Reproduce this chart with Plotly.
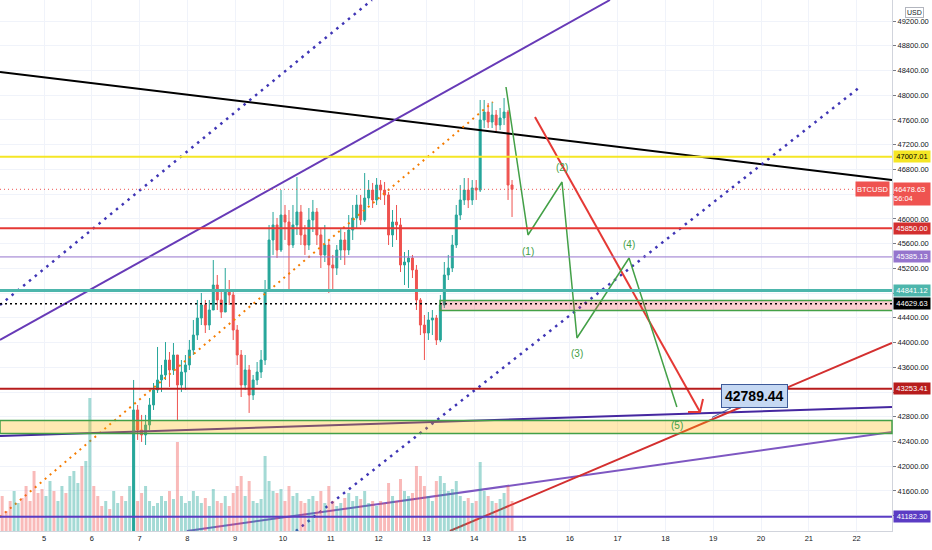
import plotly.graph_objects as go

# ---------------------------------------------------------------
# BTCUSD 2h candles (days of the month)
# ---------------------------------------------------------------
first_day = 4.0
bar_step = 1 / 12  # 2-hour bars, expressed in days
first_open = 39700

closes = [
    39500, 39300, 39100, 38900, 39200, 39400, 39000, 38600, 38300, 38100,
    37800, 37500, 37900, 38400, 38200, 38800, 39300, 39100, 39700, 40200,
    40600, 40300, 40300, 40750, 40400, 40100, 39900, 40200, 39800, 40000,
    40300, 40100, 40500, 40700, 42910, 42587, 42506, 42667, 42991, 43233,
    43395, 43476, 43718, 43557, 43799, 43314, 43524, 43638, 43880, 44122,
    44397, 44608, 44284, 44527, 44931, 44689, 44494, 44850, 44770, 44203,
    43799, 43314, 43557, 43152, 43395, 43524, 43718, 44850, 45659, 45902,
    45497, 46063, 45950, 45578, 45902, 46112, 45740, 45578, 45982, 46112,
    45740, 45417, 45578, 45255, 45206, 45497, 45659, 45497, 45820, 46015,
    46225, 45982, 46338, 46467, 46306, 46548, 46467, 46387, 45740, 45950,
    45902, 45255, 45303, 45368, 45174, 44689, 44284, 44155, 44365, 44397,
    44042, 44608, 45093, 45206, 45578, 46063, 46306, 46467, 46306, 46500,
    46467, 47599, 47728, 47567, 47680, 47518, 47632, 47728, 46548, 46478.63,
]
highs = [
    39800, 39600, 39400, 39200, 39400, 39600, 39500, 39100, 38700, 38400,
    38200, 37900, 38100, 38600, 38500, 39000, 39500, 39400, 39900, 40400,
    40800, 40700, 40850, 40850, 40700, 40500, 40200, 40400, 40300, 40200,
    40500, 40400, 40700, 40850, 43395, 42991, 42830, 42830, 43104, 43346,
    43929, 43638, 44009, 43848, 43993, 43799, 43718, 43799, 44042, 44365,
    44689, 44802, 44689, 44689, 45335, 45093, 44850, 45206, 45012, 44850,
    44284, 43880, 43799, 43638, 43476, 43686, 43880, 45012, 45902, 46112,
    46015, 46467, 46225, 46144, 46225, 46677, 46225, 45902, 46176, 46306,
    46176, 45853, 45902, 45659, 45417, 45578, 45853, 45788, 46063, 46225,
    46387, 46387, 46742, 46629, 46581, 46661, 46629, 46597, 46435, 46144,
    46225, 46015, 45465, 45497, 45417, 45255, 44721, 44446, 44494, 44527,
    44446, 44770, 45303, 45417, 45740, 46225, 46548, 46661, 46661, 46629,
    46629, 47923, 47923, 47874, 47890, 47761, 47793, 47955, 47761, 46629,
]
lows = [
    39300, 39100, 38900, 38700, 38800, 39100, 38900, 38400, 38100, 37900,
    37600, 37300, 37400, 37800, 38000, 38100, 38700, 38900, 39000, 39600,
    40100, 40100, 40200, 40200, 40200, 39900, 39700, 39800, 39600, 39700,
    39900, 39900, 40000, 40400, 40750, 42425, 42393, 42344, 42587, 42910,
    43185, 43201, 43395, 43282, 43476, 42748, 43201, 43233, 43557, 43799,
    44042, 44284, 44155, 44203, 44608, 44527, 44397, 44494, 44608, 44042,
    43638, 43120, 43233, 42862, 43072, 43314, 43427, 43638, 44818, 45417,
    45368, 45465, 45659, 44850, 45530, 45740, 45578, 45417, 45497, 45788,
    45578, 45206, 45303, 44802, 44850, 45093, 45335, 45255, 45417, 45659,
    45853, 45902, 45950, 46225, 46176, 46225, 46306, 46225, 45578, 45546,
    45659, 45141, 44931, 44883, 45044, 44527, 44122, 43718, 44042, 44122,
    43961, 44009, 44559, 45012, 45141, 45530, 45982, 46225, 46176, 46225,
    46306, 46435, 47470, 47470, 47470, 47405, 47438, 47518, 46306, 46031,
]
volumes = [
    250, 350, 200, 300, 400, 280, 330, 450, 300, 600, 380, 420,
    350, 500, 400, 300, 450, 380, 550, 600, 480, 650, 700, 1330,
    450, 350, 250, 300, 220, 400, 280, 350, 300, 450, 1050, 300,
    380, 450, 300, 250, 280, 350, 300, 400, 320, 890, 350, 280,
    300, 400, 350, 280, 330, 250, 420, 300, 280, 350, 250, 380,
    450, 550, 350, 500, 300, 280, 320, 750, 500, 400, 380, 420,
    300, 450, 350, 380, 300, 280, 320, 350, 300, 400, 280, 450,
    300, 250, 280, 330, 380, 300, 350, 320, 400, 280, 300, 250,
    300, 280, 480, 350, 300, 520, 400, 350, 380, 650, 550, 450,
    350, 300, 500, 550, 480, 400, 420, 500, 350, 300, 330, 280,
    300, 690, 400, 350, 300, 280, 320, 380, 450, 300,
]
last_price = 46478.63
countdown = "56:04"

# horizontal levels drawn on the chart
level_prices = [47007.01, 45850.00, 45385.13, 44841.12, 44629.63, 43253.41, 41182.30]
level_colors = ['#f5e625', '#e53935', '#9575cd', '#4db6ac', '#000000', '#b71c1c', '#5b3cc4']
level_widths = [2, 2, 1, 3, 1.5, 2, 2]
level_dash = ['solid', 'solid', 'solid', 'solid', '2px,3px', 'solid', 'solid']
tag_bg = ['#f5e625', '#d32f2f', '#9575cd', '#4db6ac', '#000000', '#b71c1c', '#5b3cc4']
tag_fg = ['#000000', '#ffffff', '#ffffff', '#ffffff', '#ffffff', '#ffffff', '#ffffff']

# zones (price bands)
yellow_zone = [42530, 42740]
pink_zone = [44520, 44680]
pink_zone_start = 13.285

# trend lines: (days, prices)
black_trend = ([4.08, 22.74], [48375, 46629])
channel_upper = ([4.08, 16.84], [44042, 49540])
dotted_upper = ([4.08, 11.86], [44608, 49540])
dotted_lower = ([10.27, 22.07], [40953, 48133])
orange_dotted = ([4.08, 14.39], [41180, 47890])
purple_flat = ([4.08, 22.74], [42489, 42958])
purple_rising = ([7.99, 22.74], [40953, 42554])
red_rising = ([13.49, 22.74], [40953, 43993])
red_arrow = ([15.272, 18.724], [47648, 42877])
red_arrow_head = ([18.473, 18.724, 18.787], [42877, 42877, 43088])

# Elliott wave projection
wave_days = [14.665, 15.126, 15.837, 16.15, 17.24, 18.24]
wave_prices = [48133, 45740, 46597, 44074, 45368, 42958]
wave_labels = ['', '(1)', '(2)', '(3)', '(4)', '(5)']
wave_shift = [0, -17, 14, -15, 13, -18]

target_day = 18.975
target_price = 42789.44

x_ticks = list(range(5, 23))
y_ticks = list(range(41200, 49600, 400))
hidden_ticks = [46400, 44800, 43200, 41200]

# ---------------------------------------------------------------
opens = [first_open] + closes[:-1]
bar_days = [first_day + (i + 0.5) * bar_step for i in range(len(closes))]
vol_colors = ['rgba(38,166,154,0.42)' if c >= o else 'rgba(239,83,80,0.40)'
              for o, c in zip(opens, closes)]

fig = go.Figure()

fig.add_trace(go.Bar(
    x=bar_days, y=volumes, yaxis='y2',
    marker=dict(color=vol_colors, line=dict(width=0)),
    width=bar_step * 0.75, hoverinfo='skip', showlegend=False
))

fig.add_trace(go.Candlestick(
    x=bar_days, open=opens, high=highs, low=lows, close=closes,
    increasing=dict(line=dict(color='#26a69a', width=1), fillcolor='#26a69a'),
    decreasing=dict(line=dict(color='#ef5350', width=1), fillcolor='#ef5350'),
    whiskerwidth=0, showlegend=False
))

# zones
fig.add_shape(type='rect', xref='paper', x0=0, x1=1, y0=yellow_zone[0], y1=yellow_zone[1],
              fillcolor='rgba(255,183,0,0.30)', line=dict(color='#43a047', width=1.5), layer='above')
fig.add_shape(type='rect', xref='x', x0=pink_zone_start, x1=30, y0=pink_zone[0], y1=pink_zone[1],
              fillcolor='rgba(242,54,69,0.25)', line=dict(color='#43a047', width=1.5), layer='above')

# horizontal levels
for p, col, w, d in zip(level_prices, level_colors, level_widths, level_dash):
    fig.add_shape(type='line', xref='paper', x0=0, x1=1, y0=p, y1=p,
                  line=dict(color=col, width=w, dash=d), layer='above')
fig.add_shape(type='line', xref='paper', x0=0, x1=1, y0=last_price, y1=last_price,
              line=dict(color='#ef5350', width=1, dash='1px,3px'), layer='above')


def add_line(pts, color, width, dash='solid'):
    fig.add_trace(go.Scatter(x=pts[0], y=pts[1], mode='lines',
                             line=dict(color=color, width=width, dash=dash),
                             hoverinfo='skip', showlegend=False))


add_line(black_trend, '#000000', 2)
add_line(channel_upper, '#673ab7', 2)
add_line(dotted_upper, '#3f35b5', 2.5, '2.5px,5px')
add_line(dotted_lower, '#3f35b5', 2.5, '2.5px,5px')
add_line(orange_dotted, '#f57c00', 2, '2px,4.5px')
add_line(purple_flat, '#4527a0', 2)
add_line(purple_rising, '#7e57c2', 2)
add_line(red_rising, '#d32f2f', 2)
add_line(red_arrow, '#e53935', 2)
add_line(red_arrow_head, '#e53935', 2)
add_line((wave_days, wave_prices), '#43a047', 1.5)

for d, p, t, s in zip(wave_days, wave_prices, wave_labels, wave_shift):
    if t:
        fig.add_annotation(x=d, y=p, text=t, showarrow=False, yshift=s,
                           font=dict(color='#43a047', size=10))

fig.add_annotation(
    x=target_day, y=target_price, ax=42, ay=-21,
    text='<b>42789.44</b>', showarrow=True, arrowhead=0, arrowwidth=1,
    arrowcolor='#3d5a99', bgcolor='#c5d8f3', bordercolor='#3d5a99',
    borderwidth=1, borderpad=3, font=dict(size=14, color='#000000')
)

# price tags on the right scale
for p, bg, fg in zip(level_prices, tag_bg, tag_fg):
    fig.add_annotation(xref='paper', x=1, y=p, xanchor='left', xshift=1,
                       text=f"{p:.2f}", showarrow=False, bgcolor=bg,
                       width=36, height=11, borderpad=0,
                       font=dict(color=fg, size=7.5))
fig.add_annotation(xref='paper', x=1, y=last_price, xanchor='left', yanchor='top', xshift=1,
                   yshift=7, text=f"{last_price:.2f}<br>{countdown}", showarrow=False,
                   bgcolor='#ef5350', width=36, height=22, borderpad=0, align='left',
                   font=dict(color='#ffffff', size=7.5))
fig.add_annotation(xref='paper', x=1, y=last_price, xanchor='right', xshift=-2,
                   text='BTCUSD', showarrow=False, bgcolor='#ef5350',
                   height=12, borderpad=1, font=dict(color='#ffffff', size=7.5))
fig.add_annotation(xref='paper', yref='paper', x=1, y=1, xanchor='left', yanchor='top',
                   xshift=13, yshift=-7, text='USD', showarrow=False,
                   bordercolor='#b2b5be', borderwidth=1, borderpad=1,
                   font=dict(color='#131722', size=7))

fig.update_layout(
    width=932, height=550,
    margin=dict(l=0, r=40, t=0, b=19),
    paper_bgcolor='#ffffff', plot_bgcolor='#ffffff',
    font=dict(family='Liberation Sans, Arial, sans-serif', color='#131722'),
    showlegend=False,
    xaxis=dict(
        range=[4.0795, 22.7406], tickvals=x_ticks, ticktext=[str(t) for t in x_ticks],
        showgrid=True, gridcolor='#f0f3fa', gridwidth=1, zeroline=False,
        showline=True, linecolor='#d1d4dc', ticks='', tickfont=dict(size=7.5),
        rangeslider=dict(visible=False), fixedrange=True, automargin=False
    ),
    yaxis=dict(
        range=[40953, 49540], side='right', tickvals=y_ticks,
        ticktext=['' if t in hidden_ticks else f"{t:.2f}" for t in y_ticks],
        showgrid=True, gridcolor='#f0f3fa', gridwidth=1, zeroline=False,
        showline=True, linecolor='#d1d4dc', ticks='outside', ticklen=3,
        tickcolor='#787b86', tickfont=dict(size=7.5), automargin=False
    ),
    yaxis2=dict(overlaying='y', range=[0, 5310], visible=False),
)

# remove the default page margin so the chart sits at the window's top-left
fig.write_html("out.html", config={'displayModeBar': False},
               post_script="document.body.style.margin='0';")
